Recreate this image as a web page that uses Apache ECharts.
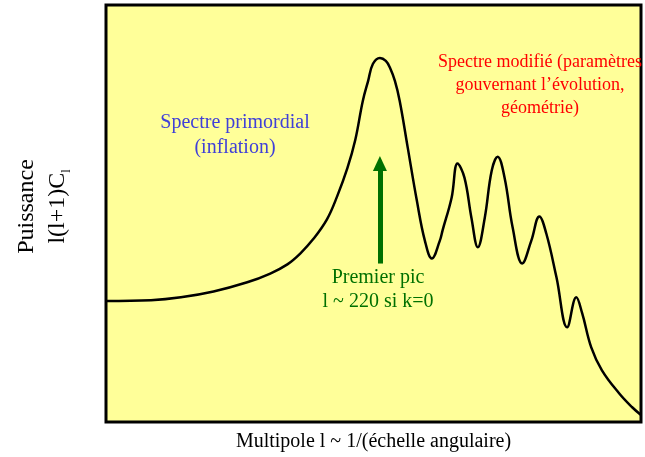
<!DOCTYPE html>
<html>
<head>
<meta charset="utf-8">
<script src="https://cdn.jsdelivr.net/npm/echarts@6/dist/echarts.min.js"></script>
<style>
  html, body { margin: 0; padding: 0; background: #fff; }
  #chart { width: 645px; height: 457px; }
</style>
</head>
<body>
<div id="chart"></div>
<script>
// multipole axis (arbitrary units 0-100) and power (arbitrary units 0-100)
const multipole = [0, 8.4, 14.0, 20.1, 26.4, 30.7, 33.9, 36.3, 38.7, 41.3, 43.2, 45.1, 46.6, 48.0, 49.0,
  49.9, 51.2, 52.3, 53.1, 54.0, 54.9, 56.4, 58.1, 59.6, 60.9, 62.4, 62.9, 64.6, 65.7, 67.0, 68.3,
  69.5, 70.8, 72.1, 73.2, 74.5, 76.0, 77.8, 79.5, 81.0, 82.3, 84.2, 86.2, 87.9, 89.0, 90.7, 92.7,
  95.9, 98.3, 100];
const puissance = [29, 29.2, 29.9, 31.3, 33.5, 35.6, 37.8, 40.4, 43.8, 48.6, 54.1, 60.8, 67.7, 77.0, 81.8,
  85.9, 87.3, 86.6, 84.9, 81.8, 77.0, 65.8, 53.1, 43.5, 39.2, 43.5, 45.9, 53.8, 62.0, 58.6, 49.0,
  41.9, 49.0, 60.3, 63.6, 58.6, 46.7, 38.0, 43.5, 49.3, 45.2, 34.7, 22.7, 29.9, 26.1, 17.9, 12.4,
  6.9, 3.6, 1.7];
// green arrow marking the first peak
const arrowFrom = [51.2, 38.0];
const arrowTo = [51.2, 62.0];

let chart = echarts.init(document.getElementById("chart"));
let serif = "'Liberation Serif', 'DejaVu Serif', serif";
let option = {
  animation: false,
  grid: {
    left: 106, right: 4, top: 5, bottom: 35,
    outerBoundsMode: "none",
    show: true,
    backgroundColor: "#ffff99",
    borderColor: "#000",
    borderWidth: 3,
  },
  xAxis: {
    type: "value", min: 0, max: 100,
    axisLine: { show: false }, axisTick: { show: false },
    axisLabel: { show: false }, splitLine: { show: false },
    name: "Multipole l ~ 1/(échelle angulaire)",
    nameLocation: "middle",
    nameGap: 10,
    nameTextStyle: { fontFamily: serif, fontSize: 20, color: "#000" },
  },
  yAxis: {
    type: "value", min: 0, max: 100,
    axisLine: { show: false }, axisTick: { show: false },
    axisLabel: { show: false }, splitLine: { show: false },
    name: "{a|Puissance}\n{a|l(l+1)C}{sub|l}",
    nameLocation: "middle",
    nameRotate: 90,
    nameGap: 33,
    nameTextStyle: {
      fontFamily: serif, color: "#000", lineHeight: 31,
      padding: [0, 0, 0, 14],
      rich: {
        a: { fontFamily: serif, fontSize: 24, color: "#000", lineHeight: 31 },
        sub: { fontFamily: serif, fontSize: 12, color: "#000", verticalAlign: "bottom", lineHeight: 31, padding: [10, 0, 0, 0] },
      },
    },
  },
  graphic: [
    { type: "text", x: 235, y: 110, style: { text: "Spectre primordial\n(inflation)", align: "center", fill: "#4040d8", font: "20px " + serif, lineHeight: 25 } },
    { type: "text", x: 540, y: 51, style: { text: "Spectre modifié (paramètres\ngouvernant l’évolution,\ngéométrie)", align: "center", fill: "#ff0000", font: "18px " + serif, lineHeight: 23 } },
    { type: "text", x: 378, y: 266, style: { text: "Premier pic\nl ~ 220 si k=0", align: "center", fill: "#007000", font: "20px " + serif, lineHeight: 24 } },
  ],
  series: [
    {
      type: "line",
      data: multipole.map((m, i) => [m, puissance[i]]),
      smooth: 0.4,
      showSymbol: false,
      lineStyle: { color: "#000", width: 2.5 },
      markLine: {
        silent: true,
        symbol: ["none", "triangle"],
        symbolSize: [14, 15],
        label: { show: false },
        lineStyle: { color: "#007000", width: 5, type: "solid" },
        data: [[{ coord: arrowFrom }, { coord: arrowTo }]],
      },
    },
  ],
};
chart.setOption(option);
</script>
</body>
</html>
